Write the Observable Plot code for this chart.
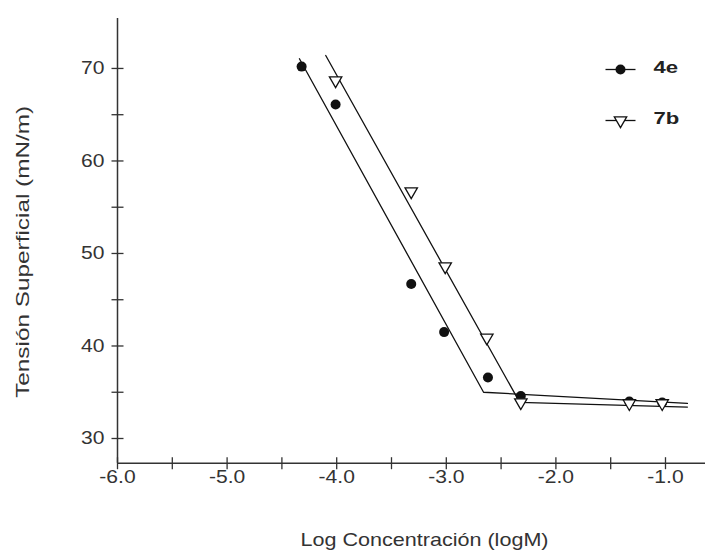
<!DOCTYPE html>
<html><head><meta charset="utf-8">
<script src="https://cdn.jsdelivr.net/npm/d3@7"></script>
<script src="https://cdn.jsdelivr.net/npm/@observablehq/plot@0.6"></script>
<style>body{margin:0;background:#fff;}</style>
</head><body><div id="chart"></div>
<script>
// Series names (legend)
const seriesNames = ["4e", "7b"];
// Measured points, series 4e (filled circles)
const x4e = [-4.32, -4.01, -3.32, -3.02, -2.62, -2.32, -1.33, -1.03];
const y4e = [70.2, 66.1, 46.7, 41.5, 36.6, 34.6, 34.0, 33.9];
// Measured points, series 7b (open down triangles)
const x7b = [-4.01, -3.32, -3.01, -2.63, -2.32, -1.33, -1.03];
const y7b = [68.7, 56.7, 48.6, 40.9, 33.9, 33.8, 33.8];
// Fitted broken lines
const fitX4e = [-4.34, -2.66, -0.80];
const fitY4e = [71.05, 35.0, 33.8];
const fitX7b = [-4.10, -2.33, -0.80];
const fitY7b = [71.4, 33.9, 33.4];
// Ticks
const xMajor = [-6, -5, -4, -3, -2, -1];
const xMinor = [-5.5, -4.5, -3.5, -2.5, -1.5];
const yMajor = [30, 40, 50, 60, 70];
const yMinor = [35, 45, 55, 65];
const xLabel = "Log Concentración (logM)";
const yLabel = "Tensión Superficial (mN/m)";

const xDomain = [-6, -0.635];
const yDomain = [27.33, 75.4];

const pts = (xs, ys) => xs.map((x, i) => ({x, y: ys[i]}));
const vTick = {draw(c) { c.moveTo(0, -6); c.lineTo(0, 6); }};
const hTick = {draw(c) { c.moveTo(-6, 0); c.lineTo(6, 0); }};
const legLine = {draw(c) { c.moveTo(-15, 0); c.lineTo(15, 0); }};
const ink = "#111";
const axisInk = "#333";

const legendMarks = [];
seriesNames.forEach((name, i) => {
  const dy = i === 0 ? 51 : 102;
  legendMarks.push(Plot.dot([name], {frameAnchor: "top-left", dx: 503, dy, symbol: legLine, fill: "none", stroke: ink, strokeWidth: 1.3}));
  if (i === 0) {
    legendMarks.push(Plot.dot([name], {frameAnchor: "top-left", dx: 503, dy, symbol: "circle", r: 5, fill: ink, stroke: "none"}));
  } else {
    legendMarks.push(Plot.dot([name], {frameAnchor: "top-left", dx: 503, dy, symbol: "triangle", rotate: 180, r: 4.6, fill: "white", stroke: ink, strokeWidth: 1.3}));
  }
  legendMarks.push(Plot.text([name], {className: "legtext", frameAnchor: "top-left", dx: 536, dy: dy - 2, text: d => d, textAnchor: "start", lineAnchor: "middle", fontWeight: "bold", fontSize: 17, fill: "#222"}));
});

const chart = Plot.plot({
  width: 705,
  height: 552,
  marginLeft: 117,
  marginRight: 0,
  marginTop: 18,
  marginBottom: 89.3,
  x: {domain: xDomain},
  y: {domain: yDomain},
  style: {fontFamily: "'Liberation Sans', Arial, sans-serif", fontSize: "18px", color: axisInk, background: "#fff", overflow: "visible"},
  marks: [
    Plot.ruleX([xDomain[0]], {stroke: axisInk, strokeWidth: 1.5}),
    Plot.ruleY([yDomain[0]], {stroke: axisInk, strokeWidth: 1.5}),
    Plot.dot(xMajor.concat(xMinor), {x: d => d, y: () => yDomain[0], symbol: vTick, fill: "none", stroke: axisInk, strokeWidth: 1.3}),
    Plot.dot(yMajor.concat(yMinor), {x: () => xDomain[0], y: d => d, symbol: hTick, fill: "none", stroke: axisInk, strokeWidth: 1.3}),
    Plot.axisX(xMajor, {className: "ticklab", tickSize: 0, tickPadding: 7, tickFormat: d => d.toFixed(1), label: null, fontSize: 18, fill: axisInk}),
    Plot.axisY(yMajor, {className: "ticklab", tickSize: 0, tickPadding: 13, tickFormat: d => String(d), label: null, fontSize: 18, fill: axisInk}),
    Plot.text([yLabel], {className: "ylab", frameAnchor: "left", dx: -95, dy: 11, rotate: -90, textAnchor: "middle", lineAnchor: "middle", text: d => d, fontSize: 19, fill: axisInk}),
    Plot.text([xLabel], {className: "xlab", frameAnchor: "bottom-left", dx: 307, dy: 77, textAnchor: "middle", lineAnchor: "middle", text: d => d, fontSize: 18.5, fill: axisInk}),
    Plot.line(pts(fitX4e, fitY4e), {x: "x", y: "y", stroke: ink, strokeWidth: 1.3}),
    Plot.line(pts(fitX7b, fitY7b), {x: "x", y: "y", stroke: ink, strokeWidth: 1.3}),
    Plot.dot(pts(x4e, y4e), {x: "x", y: "y", symbol: "circle", r: 5, fill: ink, stroke: "none"}),
    Plot.dot(pts(x7b, y7b), {x: "x", y: "y", symbol: "triangle", rotate: 180, r: 4.6, fill: "white", stroke: ink, strokeWidth: 1.3}),
    ...legendMarks
  ]
});
document.getElementById("chart").appendChild(chart);

// Horizontally widen the text glyphs to match the reference's stretched lettering
function stretch(selector, factor, fixed) {
  chart.querySelectorAll(selector).forEach(el => {
    const w = fixed != null ? fixed : el.getComputedTextLength() * factor;
    el.setAttribute("textLength", w);
    el.setAttribute("lengthAdjust", "spacingAndGlyphs");
  });
}
stretch("[aria-label='text'] text, .ticklab text, text", 1, null); // no-op baseline
stretch(".ticklab text", 1.17);
stretch(".legtext text", 1.3);
stretch(".xlab text", 1, 248);
stretch(".ylab text", 1, 292);
</script>
</body></html>
